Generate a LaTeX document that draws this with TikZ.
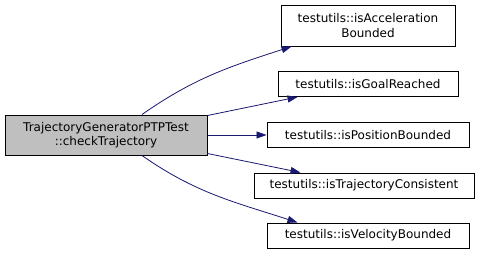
\documentclass[tikz,border=0pt]{standalone}
\usepackage{fontspec}
\setmainfont{DejaVu Sans}
\usetikzlibrary{arrows.meta}

\definecolor{edgeblue}{HTML}{191970}
\definecolor{boxgray}{HTML}{BFBFBF}

\begin{document}
\begin{tikzpicture}[x=1pt,y=-1pt,font=\fontsize{12}{14.5}\selectfont]

      \useasboundingbox (0,0) rectangle (487,255);

      \begin{scope}[every node/.style={rectangle,draw,line width=1pt,align=center,
                                       inner sep=0pt,minimum height=25pt}]
        \node[fill=boxgray,minimum width=202pt,minimum height=40pt] (main) at (106,135)
          {TrajectoryGeneratorPTPTest\\::checkTrajectory};
        \node[minimum width=174pt,minimum height=41pt] (acc) at (368,25.5)
          {testutils::isAcceleration\\Bounded};
        \node[minimum width=180pt] (goal) at (368,84)  {testutils::isGoalReached};
        \node[minimum width=202pt] (pos)  at (368,135) {testutils::isPositionBounded};
        \node[minimum width=220pt] (traj) at (364,185.5) {testutils::isTrajectoryConsistent};
        \node[minimum width=202pt] (vel)  at (368,235.5) {testutils::isVelocityBounded};
      \end{scope}

      \begin{scope}[every edge/.style={draw=edgeblue,line width=0.8pt,
                    -{Triangle[length=10pt,width=7pt,fill=edgeblue]}}]
        \path ([xshift=36pt]main.north) edge[out=35,in=198] ([xshift=11pt]acc.south west);
        \path ([yshift=-1pt]main.north east) edge ([xshift=20pt]goal.south west);
        \path (main.east) edge (pos.west);
        \path ([yshift=2pt]main.south east) edge ([xshift=47pt]traj.north west);
        \path ([xshift=36pt]main.south) edge[out=-35,in=162] ([xshift=31pt]vel.north west);
      \end{scope}

    \end{tikzpicture}
\end{document}
